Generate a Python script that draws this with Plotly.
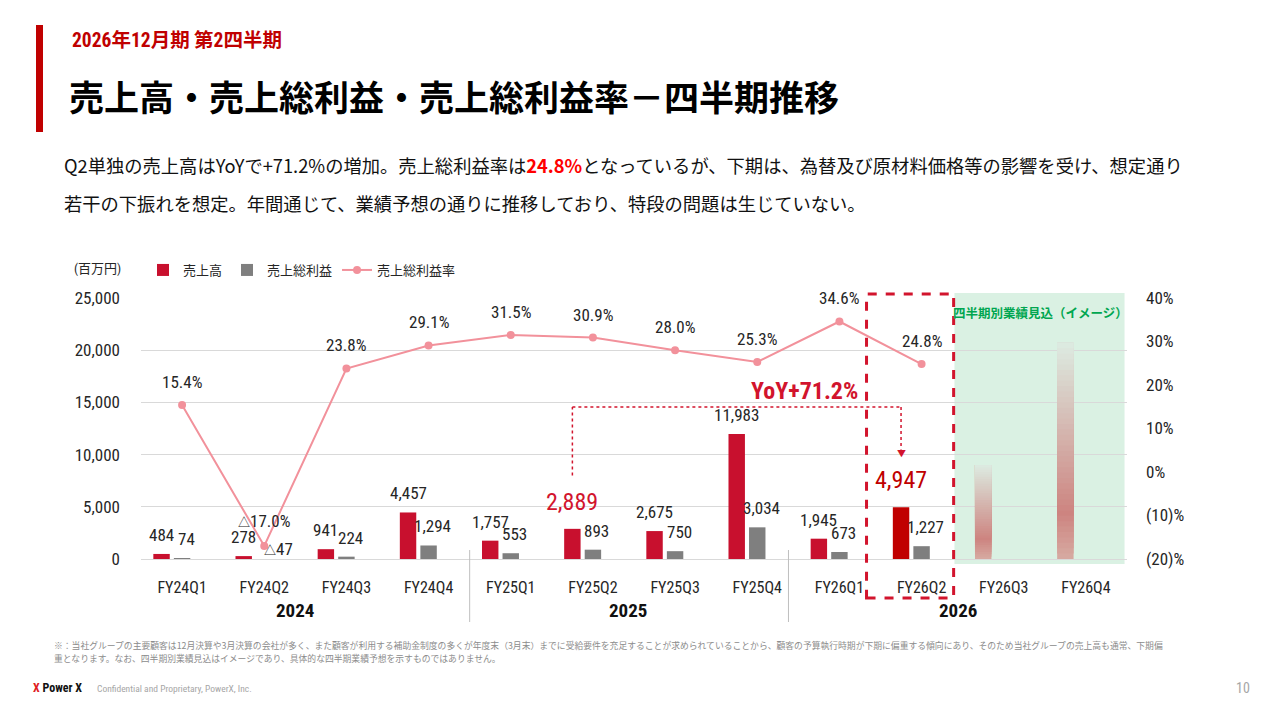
import plotly.graph_objects as go

# chart data (百万円 / %)
quarters = ["FY24Q1", "FY24Q2", "FY24Q3", "FY24Q4",
            "FY25Q1", "FY25Q2", "FY25Q3", "FY25Q4",
            "FY26Q1", "FY26Q2", "FY26Q3", "FY26Q4"]
sales = [484, 278, 941, 4457, 1757, 2889, 2675, 11983, 1945, 4947, None, None]
gross_profit = [74, -47, 224, 1294, 553, 893, 750, 3034, 673, 1227, None, None]
gross_margin = [15.4, -17.0, 23.8, 29.1, 31.5, 30.9, 28.0, 25.3, 34.6, 24.8, None, None]
forecast_image = [None] * 10 + [9000, 20700]   # 見込（イメージ）の高さ
years = ["2024", "2025", "2026"]
sales_ticks = [0, 5000, 10000, 15000, 20000, 25000]
margin_ticks = [-20, -10, 0, 10, 20, 30, 40]
margin_ticktext = ["(20)%", "(10)%", "0%", "10%", "20%", "30%", "40%"]
highlight = ["FY25Q2", "FY26Q2"]

FONT = "Roboto Condensed, Noto Sans CJK JP, sans-serif"
JP = "Noto Sans CJK JP, sans-serif"
RED = "#C8102E"
DARK_RED = "#C00000"
GRAY = "#7F7F7F"
PINK = "#F2919B"
TXT = "#262626"
TRI = "<span style='font-size:12px'>△</span>"

# plot area in pixels
L, R, T, B = 141, 1127, 298, 559
W, H = R - L, B - T


def px(x):
    return (x - L) / W


def py(y):
    return (B - y) / H


def fmt(v):
    return f"{TRI}{abs(v):,}" if v < 0 else f"{v:,}"


def page_text(x, y, text, size, color, family=JP, anchor="center"):
    return dict(x=px(x), y=py(y), xref="paper", yref="paper", xanchor=anchor, yanchor="middle",
                text=text, showarrow=False, font=dict(family=family, size=size, color=color))


fig = go.Figure()

fig.add_trace(go.Bar(
    x=quarters, y=sales, name="売上高",
    marker=dict(color=[DARK_RED if q == "FY26Q2" else RED for q in quarters], line_width=0),
    offset=-0.35, width=0.2, hoverinfo="skip"))
fig.add_trace(go.Bar(
    x=quarters, y=gross_profit, name="売上総利益",
    marker=dict(color=GRAY, line_width=0),
    offset=-0.1, width=0.2, hoverinfo="skip"))

# gradient "image" bars for the forecast quarters (overlapping bands, bottom to top)
n_seg = 40
c_base = (214, 168, 160)
c_peak = (205, 132, 128)
c_top = (221, 237, 227)
for k in range(n_seg):
    f = k / n_seg
    if f < 0.2:
        a, b, t = c_base, c_peak, f / 0.2
    else:
        a, b, t = c_peak, c_top, (f - 0.2) / 0.8
    c = tuple(round(a[j] + (b[j] - a[j]) * t) for j in range(3))
    fig.add_trace(go.Bar(
        x=quarters,
        y=[None if h is None else h * (n_seg - k) / n_seg for h in forecast_image],
        base=[None if h is None else h * k / n_seg for h in forecast_image],
        offset=-0.35, width=0.2, showlegend=False, hoverinfo="skip",
        marker=dict(color=f"rgb{c}", line_width=0)))

fig.add_trace(go.Scatter(
    x=quarters, y=gross_margin, name="売上総利益率", yaxis="y2",
    mode="lines+markers", line=dict(color=PINK, width=2),
    marker=dict(color=PINK, size=8), hoverinfo="skip"))

ann = []
# bar value labels
for i, q in enumerate(quarters):
    if sales[i] is not None:
        big = q in highlight
        ann.append(dict(x=i - 0.25, y=sales[i], xref="x", yref="y", text=fmt(sales[i]),
                        showarrow=False, yshift=27 if big else 19,
                        font=dict(family=FONT, size=24 if big else 17,
                                  color=(DARK_RED if q == "FY26Q2" else "#D2142D") if big else TXT)))
    if gross_profit[i] is not None:
        neg = gross_profit[i] < 0
        ann.append(dict(x=i, y=max(gross_profit[i], 0), xref="x", yref="y", text=fmt(gross_profit[i]),
                        showarrow=False, yshift=10 if neg else 19, xshift=14 if neg else 4,
                        font=dict(family=FONT, size=17, color=TXT)))
    if gross_margin[i] is not None:
        v = gross_margin[i]
        ann.append(dict(x=i, y=v, xref="x", yref="y2",
                        text=f"{TRI}{abs(v):.1f}%" if v < 0 else f"{v:.1f}%",
                        showarrow=False, yshift=25 if v < 0 else 23,
                        font=dict(family=FONT, size=17, color=TXT)))

# year labels under the axis
for name, xc in zip(years, [1.38, 5.43, 9.44]):
    ann.append(dict(x=xc, y=py(610), xref="x", yref="paper", yanchor="middle", text=f"<b>{name}</b>",
                    showarrow=False, font=dict(family=FONT, size=19, color="#111111")))

# YoY callout
ann.append(dict(x=7.58, y=16100, xref="x", yref="y", text="<b>YoY+71.2%</b>", showarrow=False,
                font=dict(family=FONT, size=24, color="#D2142D")))
ann.append(dict(x=8.75, y=10150, xref="x", yref="y", text="▼", showarrow=False,
                font=dict(family=JP, size=9, color="#D2142D")))
ann.append(dict(x=10.45, y=py(312), xref="x", yref="paper", yanchor="middle",
                text="<b>四半期別業績見込（イメージ）</b>",
                showarrow=False, font=dict(family=JP, size=12.5, color="#00A650")))

# axis caption
ann.append(page_text(97, 268, "(百万円)", 13, TXT, family=FONT))

# page texts
ann.append(page_text(70, 40, "<b>2026年12月期 第2四半期</b>", 19.5, DARK_RED, family=FONT, anchor="left"))
ann.append(page_text(67, 95, "<b>売上高・売上総利益・売上総利益率－四半期推移</b>", 35, "#000000",
                     anchor="left"))
body1 = ("Q2単独の売上高はYoYで+71.2%の増加。売上総利益率は"
         "<span style='color:#FF0000'><b>24.8%</b></span>"
         "となっているが、下期は、為替及び原材料価格等の影響を受け、想定通り")
body2 = "若干の下振れを想定。年間通じて、業績予想の通りに推移しており、特段の問題は生じていない。"
ann.append(page_text(62, 165, body1, 18.3, "#111111", anchor="left"))
ann.append(page_text(62, 203, body2, 18.3, "#111111", anchor="left"))
note1 = ("※：当社グループの主要顧客は12月決算や3月決算の会社が多く、また顧客が利用する補助金制度の多くが年度末（3月末）までに"
         "受給要件を充足することが求められていることから、顧客の予算執行時期が下期に偏重する傾向にあり、そのため当社グループの売上高も通常、下期偏")
note2 = "重となります。なお、四半期別業績見込はイメージであり、具体的な四半期業績予想を示すものではありません。"
ann.append(page_text(52, 645, note1, 8.8, "#8C8C8C", anchor="left"))
ann.append(page_text(52, 658, note2, 8.8, "#8C8C8C", anchor="left"))
ann.append(page_text(31, 688, "<b><span style='color:#E0201E'>X</span> Power X</b>", 12, "#111111",
                     family=FONT, anchor="left"))
ann.append(page_text(95, 688, "Confidential and Proprietary, PowerX, Inc.", 9.5, "#A6A6A6",
                     family=FONT, anchor="left"))
ann.append(page_text(1243, 688, "10", 14, "#A6A6A6", family=FONT))

shapes = [
    # forecast background
    dict(type="rect", xref="x", yref="paper", x0=9.40, x1=11.47, y0=py(564), y1=py(293),
         fillcolor="#DAF1E3", line_width=0, layer="below"),
    # title accent bar
    dict(type="rect", xref="paper", yref="paper", x0=px(36), x1=px(43), y0=py(132), y1=py(25),
         fillcolor=DARK_RED, line_width=0),
    # highlight box around FY26Q2
    dict(type="rect", xref="x", yref="paper", x0=8.33, x1=9.39, y0=py(598), y1=py(294),
         line=dict(color="#D2142D", width=3, dash="dash")),
    # year separators
    dict(type="line", xref="x", yref="paper", x0=3.5, x1=3.5, y0=py(550), y1=py(622),
         line=dict(color="#BFBFBF", width=1)),
    dict(type="line", xref="x", yref="paper", x0=7.38, x1=7.38, y0=py(550), y1=py(622),
         line=dict(color="#BFBFBF", width=1)),
    # YoY dotted connector
    dict(type="line", xref="x", yref="y", x0=4.75, x1=4.75, y0=8000, y1=14550,
         line=dict(color="#D2142D", width=1.5, dash="dot")),
    dict(type="line", xref="x", yref="y", x0=4.75, x1=8.75, y0=14550, y1=14550,
         line=dict(color="#D2142D", width=1.5, dash="dot")),
    dict(type="line", xref="x", yref="y", x0=8.75, x1=8.75, y0=14550, y1=10500,
         line=dict(color="#D2142D", width=1.5, dash="dot")),
]

fig.update_layout(
    width=1280, height=720, autosize=False,
    margin=dict(l=L, r=1280 - R, t=T, b=720 - B),
    paper_bgcolor="white", plot_bgcolor="rgba(0,0,0,0)",
    barmode="overlay",
    font=dict(family=FONT, color=TXT),
    showlegend=True,
    legend=dict(orientation="h", x=px(143), y=py(270), xanchor="left", yanchor="middle",
                font=dict(family=JP, size=13, color=TXT), bgcolor="rgba(0,0,0,0)",
                itemwidth=30, traceorder="normal"),
    xaxis=dict(type="category", range=[-0.5, 11.5], showgrid=False, showline=True,
               linecolor="#D9D9D9", ticks="", ticklabelstandoff=14,
               tickfont=dict(family=FONT, size=16, color=TXT)),
    yaxis=dict(range=[0, 25000], tickvals=sales_ticks, tickformat=",", showgrid=True,
               gridcolor="#D9D9D9", gridwidth=1, zeroline=False, ticks="",
               ticklabelstandoff=20, tickfont=dict(family=FONT, size=17, color=TXT)),
    yaxis2=dict(range=[-20, 40], overlaying="y", side="right", tickvals=margin_ticks,
                ticktext=margin_ticktext, showgrid=False, zeroline=False, ticks="",
                ticklabelstandoff=18, tickfont=dict(family=FONT, size=17, color=TXT)),
    annotations=ann,
    shapes=shapes,
)

fig.write_html("out.html", config={"displayModeBar": False},
               post_script="document.body.style.margin='0';")
